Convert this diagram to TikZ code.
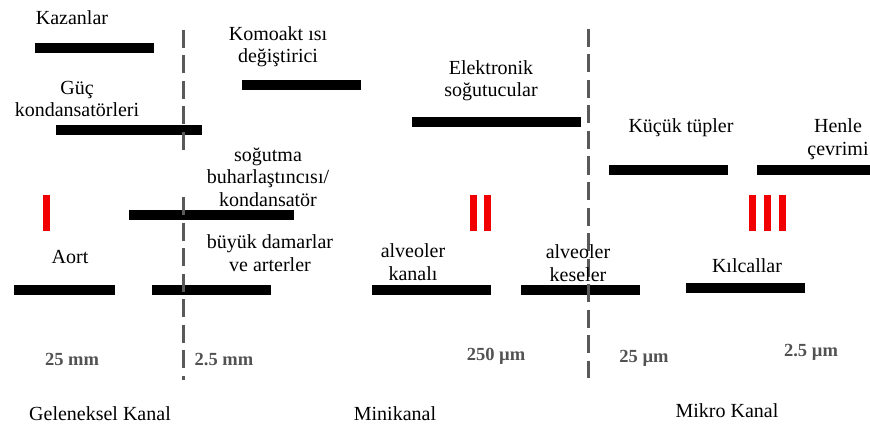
\documentclass[tikz,border=0pt]{standalone}
\usepackage{fontspec}
\setmainfont{Liberation Serif}
\begin{document}
\begin{tikzpicture}[x=1pt,y=-1pt,
  bar/.style={line width=10pt, black},
  redbar/.style={line width=7pt, red!95!black},
  divider/.style={line width=3pt, black!65, dash pattern=on 18pt off 7.5pt},
  lbl/.style={font=\fontsize{20}{22.5}\selectfont, align=center, inner sep=0pt, anchor=base},
  sizelbl/.style={font=\fontsize{18.5}{20}\selectfont\bfseries, text=black!68, inner sep=0pt, anchor=base},
]
\useasboundingbox (0,0) rectangle (870,425);

% bars
\draw[bar] (35,48) -- (154,48);
\draw[bar] (242,85) -- (361,85);
\draw[bar] (56,130) -- (202,130);
\draw[bar] (129,215) -- (294,215);
\draw[bar] (412,122) -- (581,122);
\draw[bar] (609,170) -- (728,170);
\draw[bar] (757,170) -- (870,170);
\draw[bar] (14,290) -- (115,290);
\draw[bar] (152,290) -- (271,290);
\draw[bar] (372,290) -- (491,290);
\draw[bar] (521,290) -- (640,290);
\draw[bar] (686,288) -- (805,288);

% red roman numerals
\draw[redbar] (46,195) -- (46,231);
\draw[redbar] (473,195) -- (473,231);
\draw[redbar] (487,195) -- (487,231);
\draw[redbar] (752,195) -- (752,231);
\draw[redbar] (767,195) -- (767,231);
\draw[redbar] (782,195) -- (782,231);

% dividers
\coordinate (l1a) at (183,30);
\coordinate (l1b) at (183,150);
\coordinate (l2a) at (183,197);
\coordinate (l2b) at (183,380);
\coordinate (r1a) at (588,29);
\coordinate (r1b) at (588,378);
\draw[divider] (l1a) -- (l1b);
\draw[divider] (l2a) -- (l2b);
\draw[divider] (r1a) -- (r1b);

% labels (anchor = baseline of the last line)
\node[lbl] (kaz) at (72,25) {Kazanlar};
\node[lbl] (kom) at (278,63) {Komoakt ısı\\değiştirici};
\node[lbl] (guc) at (77,117) {Güç\\kondansatörleri};
\node[lbl] (sog) at (268,206) {soğutma\\buharlaştıncısı/\\kondansatör};
\node[lbl] (ele) at (491,97) {Elektronik\\soğutucular};
\node[lbl] (kuc) at (681,133) {Küçük tüpler};
\node[lbl] (hen) at (838,155) {Henle\\çevrimi};
\node[lbl] (aor) at (70,263) {Aort};
\node[lbl] (buy) at (270,271) {büyük damarlar\\ve arterler};
\node[lbl] (alk) at (413,280) {alveoler\\kanalı};
\node[lbl] (als) at (578,281) {alveoler\\keseler};
\node[lbl] (kil) at (747,272) {Kılcallar};

\node[sizelbl] (s1) at (72,365) {25 mm};
\node[sizelbl] (s2) at (224,365) {2.5 mm};
\node[sizelbl] (s3) at (496,360) {250 µm};
\node[sizelbl] (s4) at (644,362) {25 µm};
\node[sizelbl] (s5) at (811,356) {2.5 µm};

\node[lbl] (gel) at (100,420) {Geleneksel Kanal};
\node[lbl] (min) at (395,420) {Minikanal};
\node[lbl] (mik) at (727,417) {Mikro Kanal};
\end{tikzpicture}
\end{document}
